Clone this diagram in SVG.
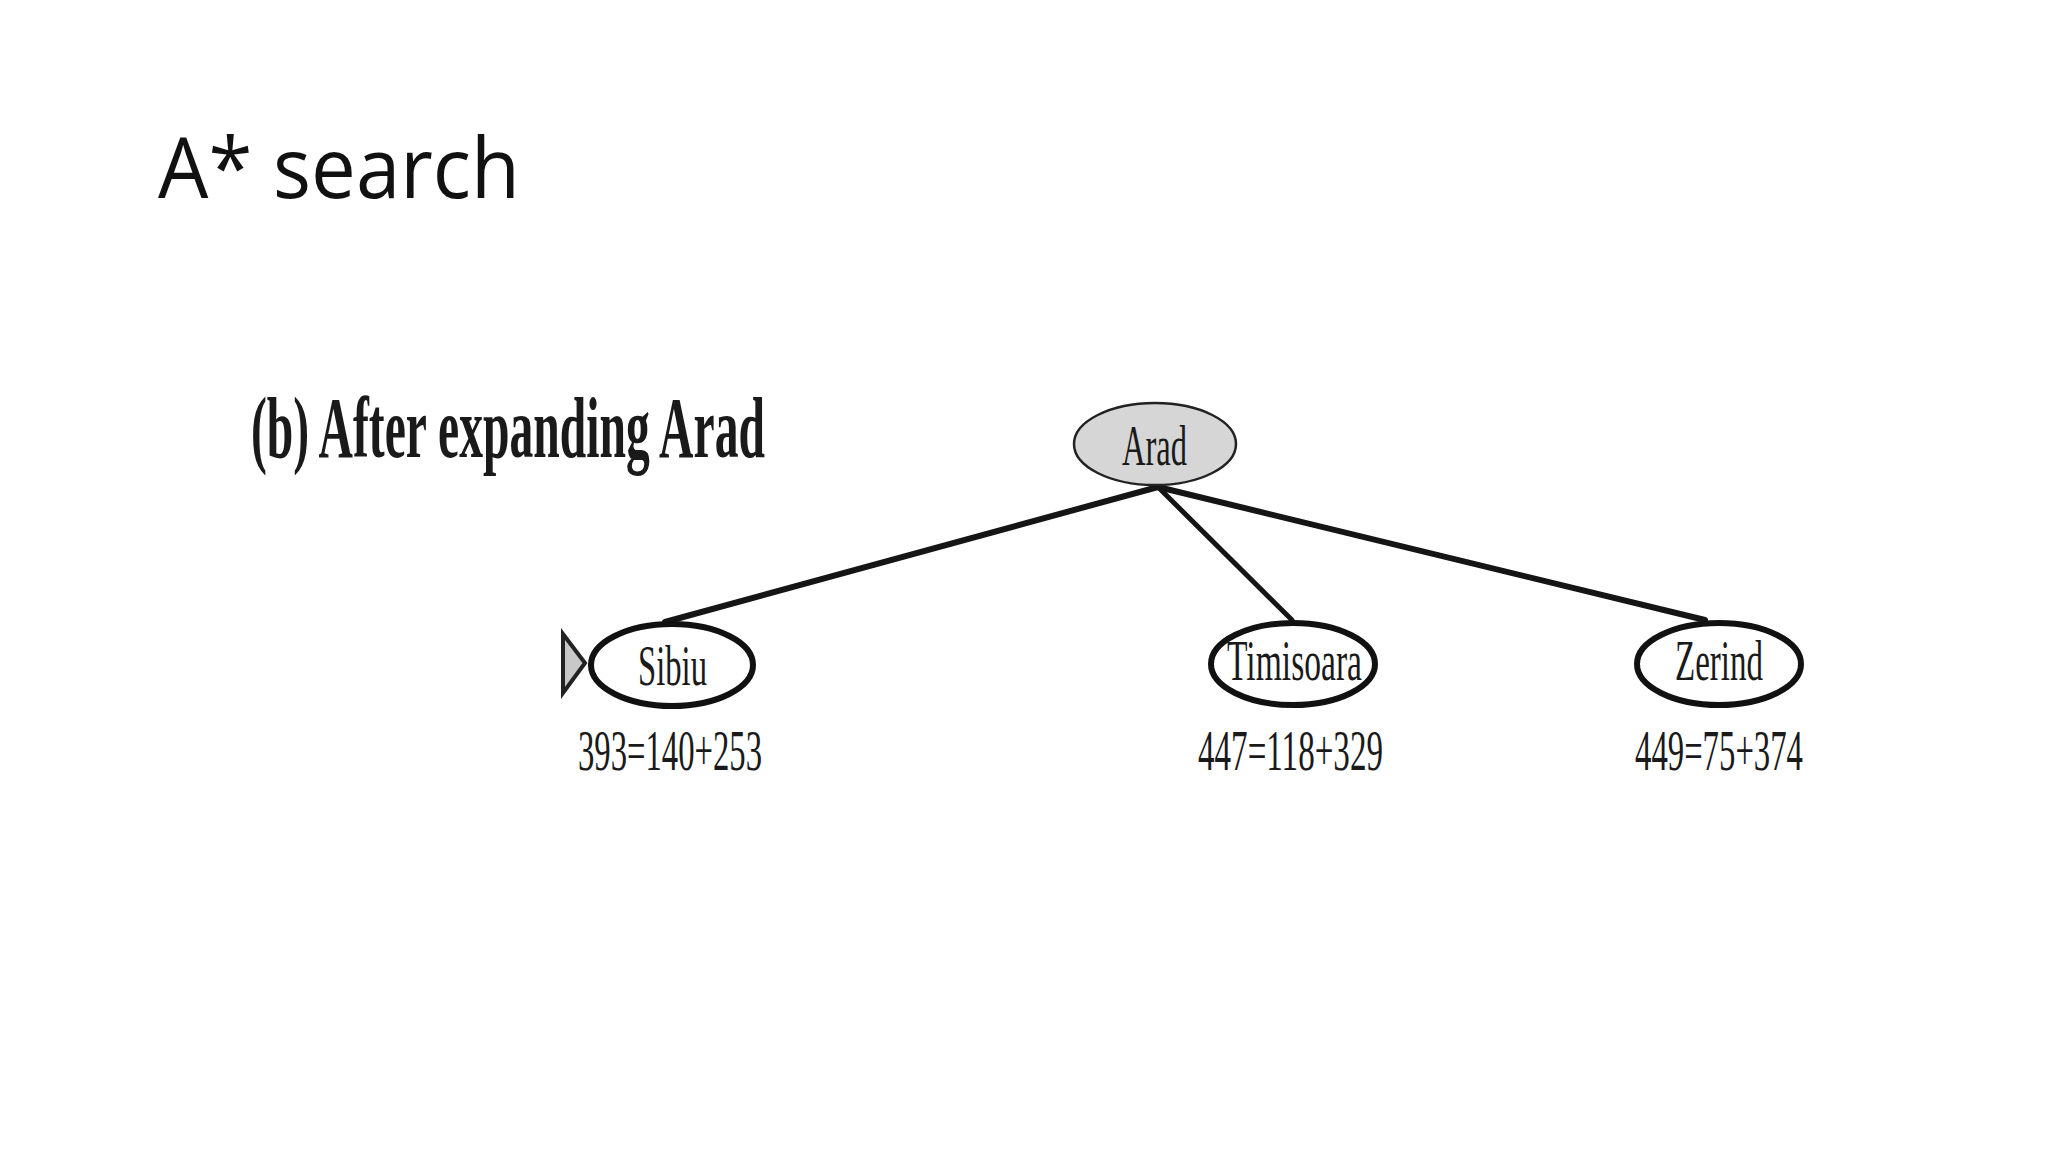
<svg xmlns="http://www.w3.org/2000/svg" width="2048" height="1152" viewBox="0 0 2048 1152">
  <style>
    .title { font-family: "Open Sans", "Liberation Sans", sans-serif; font-size: 84px; fill: #111; }
    .sub { font-family: "Liberation Serif", "DejaVu Serif", serif; font-size: 86px; font-weight: bold; fill: #1a1a1a; }
    .lbl { font-family: "Liberation Serif", "DejaVu Serif", serif; font-size: 56px; fill: #1a1a1a; }
    .node { fill: #ffffff; stroke: #111; stroke-width: 6; }
    .root { fill: #d6d6d6; stroke: #222; stroke-width: 2.5; }
    .edge { stroke: #151515; stroke-width: 6; stroke-linecap: round; fill: none; }
  </style>
  <rect width="2048" height="1152" fill="#ffffff"/>
  <text class="title" x="158" y="198" textLength="362" lengthAdjust="spacingAndGlyphs">A* search</text>
  <text class="sub" x="251" y="457" textLength="514" lengthAdjust="spacingAndGlyphs">(b) After expanding Arad</text>

  <g id="connectors">
    <line class="edge" x1="1158" y1="487" x2="665" y2="622"/>
    <line class="edge" x1="1158" y1="487" x2="1292" y2="620" style="stroke-width:5"/>
    <line class="edge" x1="1158" y1="487" x2="1705" y2="620"/>
  </g>

  <g id="node-arad">
    <ellipse class="root" cx="1155" cy="444" rx="81" ry="41"/>
    <text class="lbl" x="1122" y="465" textLength="65" lengthAdjust="spacingAndGlyphs">Arad</text>
  </g>

  <g id="node-sibiu">
    <polygon points="563,634 585,663 563,693" fill="#c8c8c8" stroke="#222" stroke-width="4"/>
    <ellipse class="node" cx="672" cy="665" rx="81" ry="41"/>
    <text class="lbl" x="638" y="685" textLength="69" lengthAdjust="spacingAndGlyphs">Sibiu</text>
    <text class="lbl" x="578" y="770" textLength="184" lengthAdjust="spacingAndGlyphs">393=140+253</text>
  </g>

  <g id="node-timisoara">
    <ellipse class="node" cx="1293" cy="664" rx="82" ry="41"/>
    <text class="lbl" x="1227" y="680" textLength="135" lengthAdjust="spacingAndGlyphs">Timisoara</text>
    <text class="lbl" x="1198" y="770" textLength="185" lengthAdjust="spacingAndGlyphs">447=118+329</text>
  </g>

  <g id="node-zerind">
    <ellipse class="node" cx="1719" cy="664" rx="82" ry="41"/>
    <text class="lbl" x="1675" y="680" textLength="88" lengthAdjust="spacingAndGlyphs">Zerind</text>
    <text class="lbl" x="1635" y="770" textLength="168" lengthAdjust="spacingAndGlyphs">449=75+374</text>
  </g>
</svg>
